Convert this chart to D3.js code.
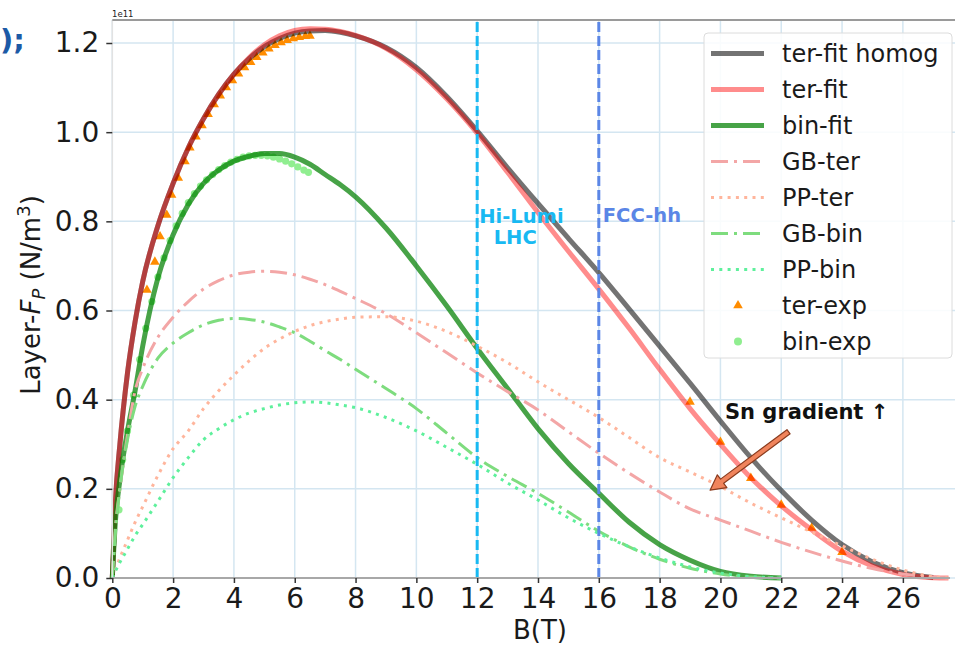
<!DOCTYPE html>
<html>
<head>
<meta charset="utf-8">
<script src="https://cdn.jsdelivr.net/npm/d3@7"></script>
<style>
  html, body { margin: 0; padding: 0; background: #fff; }
  svg { display: block; font-family: "DejaVu Sans", sans-serif; }
</style>
</head>
<body>
<script>
// ---------------- DATA ----------------
const B_GRID = [0, 0.1, 0.25, 0.5, 0.75, 1, 1.5, 2, 2.5, 3, 3.5, 4, 4.5, 5, 5.5, 6, 6.5, 7, 7.5, 8,
                9, 10, 11, 12, 13, 14, 15, 16, 17, 18, 19, 20, 21, 22, 23, 24, 25, 26, 27, 27.5];

const terFitHomog = [0, 0.17, 0.30, 0.46, 0.575, 0.665, 0.79, 0.885, 0.965, 1.03, 1.085, 1.13, 1.165, 1.192, 1.21, 1.222, 1.227, 1.228, 1.224, 1.216,
                     1.19, 1.145, 1.08, 1.003, 0.92, 0.84, 0.762, 0.685, 0.603, 0.52, 0.437, 0.352, 0.27, 0.196, 0.13, 0.075, 0.036, 0.012, 0.001, null];
const terFit      = [0, 0.17, 0.30, 0.46, 0.575, 0.665, 0.79, 0.885, 0.965, 1.03, 1.085, 1.13, 1.167, 1.196, 1.216, 1.228, 1.232, 1.231, 1.226, 1.217,
                     1.188, 1.14, 1.075, 0.998, 0.91, 0.82, 0.733, 0.648, 0.56, 0.468, 0.38, 0.30, 0.225, 0.162, 0.108, 0.06, 0.027, 0.008, 0.0008, 0];
const binFit      = [0, 0.125, 0.22, 0.33, 0.42, 0.52, 0.673, 0.77, 0.838, 0.885, 0.915, 0.935, 0.946, 0.952, 0.952, 0.944, 0.928, 0.905, 0.882, 0.855,
                     0.785, 0.70, 0.61, 0.515, 0.425, 0.335, 0.257, 0.19, 0.125, 0.075, 0.04, 0.015, 0.004, 0, null, null, null, null, null, null];
const gbTer       = [0, 0.11, 0.20, 0.32, 0.42, 0.47, 0.54, 0.585, 0.62, 0.648, 0.667, 0.68, 0.686, 0.688, 0.686, 0.68, 0.67, 0.658, 0.643, 0.627,
                     0.593, 0.55, 0.505, 0.46, 0.418, 0.377, 0.328, 0.28, 0.235, 0.193, 0.155, 0.13, 0.105, 0.08, 0.058, 0.038, 0.021, 0.009, 0.002, 0];
const ppTer       = [0, 0.018, 0.045, 0.085, 0.125, 0.16, 0.23, 0.29, 0.33, 0.38, 0.42, 0.455, 0.487, 0.515, 0.536, 0.553, 0.566, 0.575, 0.581, 0.585,
                     0.586, 0.576, 0.553, 0.52, 0.483, 0.44, 0.40, 0.36, 0.315, 0.27, 0.238, 0.205, 0.168, 0.135, 0.103, 0.072, 0.042, 0.018, 0.003, 0];
const gbBin       = [0, 0.10, 0.20, 0.31, 0.385, 0.43, 0.493, 0.527, 0.55, 0.568, 0.578, 0.582, 0.58, 0.574, 0.563, 0.55, 0.531, 0.51, 0.49, 0.468,
                     0.425, 0.38, 0.325, 0.27, 0.228, 0.19, 0.148, 0.105, 0.07, 0.042, 0.022, 0.009, 0.002, 0, null, null, null, null, null, null];
const ppBin       = [0, 0.015, 0.035, 0.065, 0.095, 0.12, 0.172, 0.225, 0.27, 0.31, 0.335, 0.355, 0.37, 0.38, 0.388, 0.393, 0.395, 0.393, 0.388, 0.382,
                     0.36, 0.33, 0.293, 0.255, 0.213, 0.175, 0.135, 0.10, 0.07, 0.045, 0.025, 0.011, 0.003, 0, null, null, null, null, null, null];

const terExpB = [1.14, 1.4, 1.57, 1.79, 1.95, 2.17, 2.39, 2.55, 2.75, 2.95, 3.15, 3.35, 3.55, 3.75, 3.95, 4.15, 4.35, 4.55, 4.75, 4.95,
                 5.15, 5.35, 5.55, 5.75, 5.95, 6.15, 6.35, 6.5, 19, 20, 21, 22, 23, 24];
const terExpF = [0.646, 0.709, 0.766, 0.814, 0.859, 0.897, 0.934, 0.965, 0.99, 1.015, 1.04, 1.062, 1.082, 1.10, 1.116, 1.131, 1.145, 1.157, 1.168, 1.178,
                 1.187, 1.195, 1.201, 1.206, 1.21, 1.213, 1.215, 1.216, 0.395, 0.305, 0.224, 0.164, 0.112, 0.058];
const binExpB = [0.22, 0.34, 0.5, 0.7, 0.9, 1.1, 1.3, 1.5, 1.7, 1.9, 2.1, 2.3, 2.5, 2.7, 2.9, 3.1, 3.3, 3.5, 3.7, 3.9,
                 4.1, 4.3, 4.5, 4.7, 4.9, 5.1, 5.3, 5.5, 5.7, 5.9, 6.1, 6.3, 6.45];
const binExpF = [0.153, 0.265, 0.33, 0.41, 0.49, 0.56, 0.62, 0.675, 0.718, 0.757, 0.79, 0.818, 0.842, 0.862, 0.879, 0.893, 0.905, 0.916, 0.925, 0.933,
                 0.939, 0.944, 0.947, 0.948, 0.948, 0.947, 0.944, 0.94, 0.935, 0.929, 0.922, 0.915, 0.91];

const xTicks = [0, 2, 4, 6, 8, 10, 12, 14, 16, 18, 20, 22, 24, 26];
const yTicks = [0.0, 0.2, 0.4, 0.6, 0.8, 1.0, 1.2];

const vLineB = [12, 16];
const vLineLabels = [["Hi-Lumi", "LHC"], ["FCC-hh"]];

const legendLabels = ["ter-fit homog", "ter-fit", "bin-fit", "GB-ter", "PP-ter", "GB-bin", "PP-bin", "ter-exp", "bin-exp"];

const annotationText = "Sn gradient \u2191";
const arrowTail = [22.24, 0.328];
const arrowTip  = [19.66, 0.197];
const annotationPos = [20.15, 0.357];

// ---------------- STYLES ----------------
const FONT = "DejaVu Sans";
const styles = {
  terFitHomog: { color: "#000000", opacity: 0.55, width: 5, dash: null },
  terFit:      { color: "#ff0000", opacity: 0.45, width: 5, dash: null },
  binFit:      { color: "#008000", opacity: 0.72, width: 5, dash: null },
  gbTer:       { color: "#f3a6a6", opacity: 1, width: 3, dash: "17,6,3,6" },
  ppTer:       { color: "#ffb59c", opacity: 1, width: 3, dash: "3,5.3" },
  gbBin:       { color: "#7edc7e", opacity: 1, width: 3, dash: "17,6,3,6" },
  ppBin:       { color: "#5ef09c", opacity: 1, width: 3, dash: "3,5.3" }
};

// ---------------- SETUP ----------------
const W = 955, H = 646;
const svg = d3.select("body").append("svg").attr("width", W).attr("height", H);

const x = d3.scaleLinear().domain([0, 27.55]).range([112.3, 950]);
const y = d3.scaleLinear().domain([0, 1.2516]).range([578, 20]);

// grid
const grid = svg.append("g");
grid.selectAll("line.gx").data(xTicks).enter().append("line")
  .attr("x1", d => x(d)).attr("x2", d => x(d)).attr("y1", y.range()[0]).attr("y2", y.range()[1])
  .attr("stroke", "#d4e6f1").attr("stroke-width", 1.5);
grid.selectAll("line.gy").data(yTicks).enter().append("line")
  .attr("y1", d => y(d)).attr("y2", d => y(d)).attr("x1", x.range()[0]).attr("x2", W)
  .attr("stroke", "#d4e6f1").attr("stroke-width", 1.5);

const plot = svg.append("g");

// scatter (drawn first, under lines)
plot.selectAll("path.terexp").data(terExpB.map((b, i) => [b, terExpF[i]])).enter().append("path")
  .attr("d", d3.symbol(d3.symbolTriangle, 40))
  .attr("transform", d => `translate(${x(d[0])},${y(d[1])})`)
  .attr("fill", "#ff8c00");
plot.selectAll("circle.binexp").data(binExpB.map((b, i) => [b, binExpF[i]])).enter().append("circle")
  .attr("cx", d => x(d[0])).attr("cy", d => y(d[1])).attr("r", 3.6)
  .attr("fill", "#90ee90");

const line = d3.line()
  .defined(d => d[1] !== null)
  .x(d => x(d[0])).y(d => y(d[1]))
  .curve(d3.curveMonotoneX);

const seriesList = [
  ["terFitHomog", terFitHomog], ["terFit", terFit], ["binFit", binFit],
  ["gbTer", gbTer], ["ppTer", ppTer], ["gbBin", gbBin], ["ppBin", ppBin]
];
seriesList.forEach(([key, vals]) => {
  const st = styles[key];
  plot.append("path")
    .datum(B_GRID.map((b, i) => [b, vals[i]]))
    .attr("d", line)
    .attr("fill", "none")
    .attr("stroke", st.color)
    .attr("stroke-opacity", st.opacity)
    .attr("stroke-width", st.width)
    .attr("stroke-dasharray", st.dash)
    .attr("stroke-linejoin", "round");
});

// vertical reference lines
const vColors = ["#18b9f2", "#5b86e6"];
vLineB.forEach((b, i) => {
  plot.append("line")
    .attr("x1", x(b)).attr("x2", x(b)).attr("y1", y.range()[0]).attr("y2", y.range()[1])
    .attr("stroke", vColors[i]).attr("stroke-width", 3).attr("stroke-dasharray", "10,4");
});

// vline labels
svg.append("text").attr("x", x(12) + 2).attr("y", 222.5)
  .attr("font-family", FONT).attr("font-weight", "bold").attr("font-size", 19.5)
  .attr("fill", vColors[0]).text(vLineLabels[0][0]);
svg.append("text").attr("x", x(13.25)).attr("y", 243.5).attr("text-anchor", "middle")
  .attr("font-family", FONT).attr("font-weight", "bold").attr("font-size", 19.5)
  .attr("fill", vColors[0]).text(vLineLabels[0][1]);
svg.append("text").attr("x", x(16) + 4).attr("y", 221.7)
  .attr("font-family", FONT).attr("font-weight", "bold").attr("font-size", 19.5)
  .attr("fill", vColors[1]).text(vLineLabels[1][0]);

// spines
svg.append("line").attr("x1", x.range()[0]).attr("x2", x.range()[0]).attr("y1", y.range()[0]).attr("y2", y.range()[1])
  .attr("stroke", "#e2e2e2").attr("stroke-width", 1.5);
svg.append("line").attr("x1", x.range()[0]).attr("x2", W).attr("y1", y.range()[1]).attr("y2", y.range()[1])
  .attr("stroke", "#9a9a9a").attr("stroke-width", 2);
svg.append("line").attr("x1", x.range()[0]).attr("x2", x.range()[1]).attr("y1", y.range()[0]).attr("y2", y.range()[0])
  .attr("stroke", "#a8a8a8").attr("stroke-width", 2);

// axes
const xAxis = d3.axisBottom(x).tickValues(xTicks).tickSize(5).tickPadding(5).tickFormat(d3.format("d"));
const gx = svg.append("g").attr("transform", `translate(0,${y.range()[0]})`).call(xAxis);
gx.select(".domain").remove();
gx.selectAll(".tick line").attr("stroke", "#333").attr("stroke-width", 1.5);
gx.selectAll(".tick text").attr("font-family", FONT).attr("font-size", 28).attr("fill", "#1a1a1a");

const yAxis = d3.axisLeft(y).tickValues(yTicks).tickSize(6).tickPadding(7).tickFormat(d3.format(".1f"));
const gy = svg.append("g").attr("transform", `translate(${x.range()[0]},0)`).call(yAxis);
gy.select(".domain").remove();
gy.selectAll(".tick line").attr("stroke", "#333").attr("stroke-width", 1.5);
gy.selectAll(".tick text").attr("font-family", FONT).attr("font-size", 28).attr("fill", "#1a1a1a");

// offset text
svg.append("text").attr("x", 112).attr("y", 17).attr("font-family", FONT).attr("font-size", 8.5)
  .attr("fill", "#222").text("1e11");

// axis labels
svg.append("text").attr("x", 540).attr("y", 639).attr("text-anchor", "middle")
  .attr("font-family", FONT).attr("font-size", 26).attr("fill", "#1a1a1a").text("B(T)");

const yl = svg.append("text").attr("transform", "translate(40,295) rotate(-90)")
  .attr("text-anchor", "middle").attr("font-family", FONT).attr("font-size", 26).attr("fill", "#1a1a1a");
yl.append("tspan").text("Layer-");
yl.append("tspan").attr("font-style", "italic").text("F");
yl.append("tspan").attr("font-style", "italic").attr("font-size", 18).attr("dy", 5).text("P");
yl.append("tspan").attr("dy", -5).text(" (N/m");
yl.append("tspan").attr("font-size", 18).attr("dy", -10).text("3");
yl.append("tspan").attr("dy", 10).text(")");

// fragment of surrounding document text at the top-left corner
svg.append("text").attr("x", 0).attr("y", 50).attr("font-family", FONT).attr("font-size", 29)
  .attr("font-weight", "bold").attr("fill", "#1c5aa6").text(");");

// annotation arrow
(function () {
  const tx = x(arrowTail[0]), ty = y(arrowTail[1]);
  const hx = x(arrowTip[0]), hy = y(arrowTip[1]);
  const dx = hx - tx, dy = hy - ty, L = Math.hypot(dx, dy);
  const ux = dx / L, uy = dy / L, nx = -uy, ny = ux;
  const sw = 2.6, hw = 8, hl = 15;
  const bx = hx - ux * hl, by = hy - uy * hl;
  const pts = [
    [tx + nx * sw, ty + ny * sw], [bx + nx * sw, by + ny * sw], [bx + nx * hw, by + ny * hw],
    [hx, hy], [bx - nx * hw, by - ny * hw], [bx - nx * sw, by - ny * sw], [tx - nx * sw, ty - ny * sw]
  ];
  svg.append("path").attr("d", d3.line()(pts) + "Z")
    .attr("fill", "#f0845c").attr("stroke", "#8a3b1e").attr("stroke-width", 1.2).attr("stroke-linejoin", "round");
})();
svg.append("text").attr("x", x(annotationPos[0])).attr("y", y(annotationPos[1]))
  .attr("font-family", FONT).attr("font-weight", "bold").attr("font-size", 21).attr("fill", "#111")
  .text(annotationText);

// legend
const lg = svg.append("g");
lg.append("rect").attr("x", 704).attr("y", 33).attr("width", 248).attr("height", 325).attr("rx", 4)
  .attr("fill", "#fff").attr("fill-opacity", 0.85).attr("stroke", "#dcdcdc").attr("stroke-width", 1);
const legendKeys = ["terFitHomog", "terFit", "binFit", "gbTer", "ppTer", "gbBin", "ppBin"];
legendLabels.forEach((lab, i) => {
  const cy = 53.5 + i * 36;
  if (i < 7) {
    const st = styles[legendKeys[i]];
    lg.append("line").attr("x1", 711).attr("x2", 764).attr("y1", cy).attr("y2", cy)
      .attr("stroke", st.color).attr("stroke-opacity", st.opacity).attr("stroke-width", st.width)
      .attr("stroke-dasharray", st.dash);
  } else if (i === 7) {
    lg.append("path").attr("d", d3.symbol(d3.symbolTriangle, 40)).attr("transform", `translate(738,${cy})`)
      .attr("fill", "#ff8c00");
  } else {
    lg.append("circle").attr("cx", 738).attr("cy", cy).attr("r", 4).attr("fill", "#90ee90");
  }
  lg.append("text").attr("x", 782).attr("y", cy + 8.4).attr("font-family", FONT).attr("font-size", 24)
    .attr("fill", "#1a1a1a").text(lab);
});
</script>
</body>
</html>
